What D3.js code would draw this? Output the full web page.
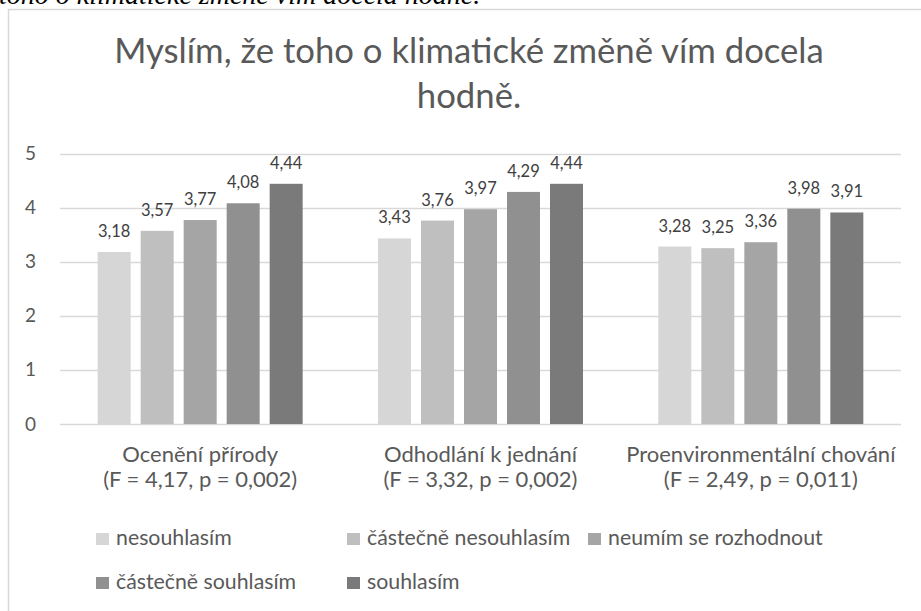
<!DOCTYPE html>
<html>
<head>
<meta charset="utf-8">
<script src="https://cdn.jsdelivr.net/npm/d3@7"></script>
<style>
  body { margin: 0; background: #fff; }
  svg { display: block; }
</style>
</head>
<body>
<div id="container"></div>
<script>
// values
let categories = ["Ocenění přírody", "Odhodlání k jednání", "Proenvironmentální chování"];
let statLabels = ["(F = 4,17, p = 0,002)", "(F = 3,32, p = 0,002)", "(F = 2,49, p = 0,011)"];
let seriesNames = ["nesouhlasím", "částečně nesouhlasím", "neumím se rozhodnout", "částečně souhlasím", "souhlasím"];
let nesouhlasim = [3.18, 3.43, 3.28];
let castecneNesouhlasim = [3.57, 3.76, 3.25];
let neumim = [3.77, 3.97, 3.36];
let castecneSouhlasim = [4.08, 4.29, 3.98];
let souhlasim = [4.44, 4.44, 3.91];
let yTicks = [0, 1, 2, 3, 4, 5];
let titleLines = ["Myslím, že toho o klimatické změně vím docela", "hodně."];
let captionText = "toho o klimatické změně vím docela hodně.";

let seriesValues = [nesouhlasim, castecneNesouhlasim, neumim, castecneSouhlasim, souhlasim];
let colors = ["#d6d6d6", "#bfbfbf", "#a5a5a5", "#909090", "#7a7a7a"];

let w = 921;
let h = 611;
let font = "Lato, 'Open Sans', sans-serif";
let textColor = "#595959";

let viz = d3.select("#container")
  .append("svg")
  .attr("width", w)
  .attr("height", h)
  .style("background-color", "white");

// caption above the chart, cut off by the top edge like in the source
viz.append("text")
  .attr("x", -1)
  .attr("y", 4)
  .attr("font-family", "'Liberation Serif', 'Times New Roman', serif")
  .attr("font-style", "italic")
  .attr("font-size", 28)
  .attr("fill", "#000")
  .text(captionText);

// chart frame
viz.append("rect")
  .attr("x", 8.5)
  .attr("y", 9.5)
  .attr("width", w + 20)
  .attr("height", h + 20)
  .attr("fill", "none")
  .attr("stroke", "#d9d9d9")
  .attr("stroke-width", 1.5);

// title
viz.selectAll(".title")
  .data(titleLines)
  .enter()
  .append("text")
  .attr("class", "title")
  .attr("x", 469)
  .attr("y", function (d, i) { return 63 + i * 44.5; })
  .attr("text-anchor", "middle")
  .attr("font-family", font)
  .attr("font-size", 34.7)
  .attr("fill", textColor)
  .text(function (d) { return d; });

let xScale = d3.scaleBand().domain(categories).range([60, 901]);
let xInner = d3.scaleBand().domain(seriesNames).range([0, xScale.bandwidth()])
  .paddingInner(10 / 43).paddingOuter(0.876);
let yScale = d3.scaleLinear().domain([0, 5]).range([424, 153.5]);

// gridlines
viz.append("g").selectAll("line")
  .data(yTicks)
  .enter()
  .append("line")
  .attr("x1", 60)
  .attr("x2", 901)
  .attr("y1", function (d) { return Math.round(yScale(d)) + 0.5; })
  .attr("y2", function (d) { return Math.round(yScale(d)) + 0.5; })
  .attr("stroke", "#d9d9d9")
  .attr("stroke-width", 1.5);

// y axis labels
let yAxis = d3.axisLeft(yScale).tickValues(yTicks).tickFormat(d3.format("d")).tickSize(0).tickPadding(24);
let yAxisGroup = viz.append("g").attr("transform", "translate(60,0)").call(yAxis);
yAxisGroup.select(".domain").remove();
yAxisGroup.selectAll("text")
  .attr("font-family", font)
  .attr("font-size", 19)
  .attr("fill", textColor);

let czNum = d3.formatLocale({ decimal: ",", thousands: " ", grouping: [3], currency: ["", " Kč"] }).format(".2f");

// bars
seriesValues.forEach(function (vals, s) {
  let g = viz.append("g").attr("class", "series");
  g.selectAll("rect")
    .data(vals)
    .enter()
    .append("rect")
    .attr("x", function (d, i) { return xScale(categories[i]) + xInner(seriesNames[s]); })
    .attr("y", function (d) { return yScale(d); })
    .attr("width", xInner.bandwidth())
    .attr("height", function (d) { return yScale(0) - yScale(d); })
    .attr("fill", colors[s]);

  g.selectAll("text")
    .data(vals)
    .enter()
    .append("text")
    .attr("x", function (d, i) { return xScale(categories[i]) + xInner(seriesNames[s]) + xInner.bandwidth() / 2; })
    .attr("y", function (d) { return yScale(d) - 15; })
    .attr("text-anchor", "middle")
    .attr("font-family", font)
    .attr("font-size", 16.5)
    .attr("fill", "#404040")
    .text(function (d) { return czNum(d); });
});

// category labels
let catGroups = viz.selectAll(".cat")
  .data(categories)
  .enter()
  .append("text")
  .attr("class", "cat")
  .attr("text-anchor", "middle")
  .attr("font-family", font)
  .attr("font-size", 22)
  .attr("fill", textColor);
catGroups.append("tspan")
  .attr("x", function (d) { return xScale(d) + xScale.bandwidth() / 2; })
  .attr("y", 461.5)
  .text(function (d) { return d; });
catGroups.append("tspan")
  .attr("x", function (d) { return xScale(d) + xScale.bandwidth() / 2; })
  .attr("y", 486.5)
  .text(function (d, i) { return statLabels[i]; });

// legend
let legendX = [96, 347, 588];
let legend = viz.selectAll(".legend")
  .data(seriesNames)
  .enter()
  .append("g")
  .attr("class", "legend")
  .attr("transform", function (d, i) {
    return "translate(" + legendX[i % 3] + "," + (i < 3 ? 545 : 589) + ")";
  });
legend.append("rect")
  .attr("x", 0)
  .attr("y", -12)
  .attr("width", 13)
  .attr("height", 12)
  .attr("fill", function (d, i) { return colors[i]; });
legend.append("text")
  .attr("x", 20)
  .attr("y", 0)
  .attr("font-family", font)
  .attr("font-size", 21.3)
  .attr("fill", textColor)
  .text(function (d) { return d; });
</script>
</body>
</html>
